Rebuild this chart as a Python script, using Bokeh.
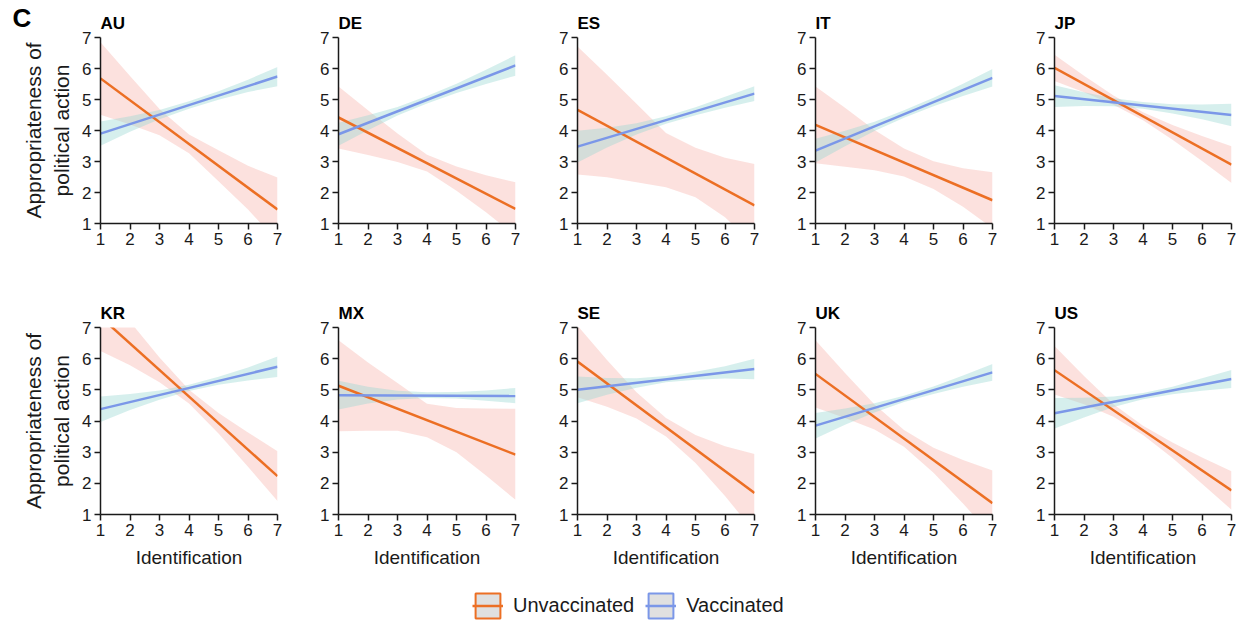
from bokeh.plotting import figure
from bokeh.layouts import column, row
from bokeh.models import Range1d, Legend, LegendItem, Label, FixedTicker
from bokeh.embed import file_html
from bokeh.resources import INLINE

COUNTRIES = ["AU", "DE", "ES", "IT", "JP", "KR", "MX", "SE", "UK", "US"]
X = [1, 2, 3, 4, 5, 6, 7]
TICKS = [1, 2, 3, 4, 5, 6, 7]

# fitted lines: value at Identification = 1 and = 7
UNV_LINE = [[5.68, 1.45], [4.42, 1.47], [4.67, 1.58], [4.18, 1.75], [6.02, 2.90],
            [7.34, 2.23], [5.13, 2.92], [5.91, 1.69], [5.51, 1.36], [5.63, 1.77]]
VAC_LINE = [[3.90, 5.74], [3.88, 6.10], [3.48, 5.19], [3.35, 5.70], [5.11, 4.50],
            [4.38, 5.74], [4.83, 4.80], [5.00, 5.67], [3.85, 5.56], [4.25, 5.35]]

# confidence bands at Identification = 1..7
UNV_HI = [[6.85, 5.76, 4.69, 3.87, 3.36, 2.86, 2.48],
          [5.42, 4.65, 3.90, 3.22, 2.84, 2.56, 2.33],
          [6.71, 5.80, 4.86, 3.92, 3.44, 3.12, 2.92],
          [5.42, 4.73, 4.02, 3.42, 3.01, 2.78, 2.65],
          [6.44, 5.77, 5.13, 4.59, 4.18, 3.82, 3.49],
          [8.43, 7.19, 6.04, 5.00, 4.26, 3.63, 3.03],
          [6.59, 5.88, 5.22, 4.55, 4.42, 4.40, 4.39],
          [7.06, 5.96, 4.92, 4.10, 3.55, 3.19, 2.94],
          [6.59, 5.54, 4.53, 3.71, 3.14, 2.75, 2.41],
          [6.41, 5.44, 4.54, 3.85, 3.31, 2.83, 2.39]]
UNV_LO = [[4.51, 4.19, 3.85, 3.27, 2.36, 1.45, 0.42],
          [3.42, 3.21, 2.98, 2.68, 2.06, 1.36, 0.61],
          [2.58, 2.49, 2.33, 2.17, 1.85, 1.20, 0.30],
          [2.94, 2.83, 2.72, 2.52, 2.11, 1.54, 0.85],
          [5.60, 5.23, 4.83, 4.33, 3.70, 3.02, 2.31],
          [6.25, 5.79, 5.24, 4.56, 3.60, 2.53, 1.43],
          [3.67, 3.69, 3.69, 3.48, 3.00, 2.25, 1.47],
          [4.76, 4.46, 4.08, 3.50, 2.65, 1.59, 0.44],
          [4.43, 4.10, 3.73, 3.17, 2.34, 1.35, 0.31],
          [4.85, 4.54, 4.14, 3.55, 2.81, 1.99, 1.15]]
VAC_HI = [[4.29, 4.46, 4.66, 4.94, 5.27, 5.64, 6.05],
          [4.25, 4.49, 4.76, 5.11, 5.51, 5.96, 6.43],
          [3.99, 4.09, 4.23, 4.46, 4.75, 5.09, 5.43],
          [3.73, 3.99, 4.28, 4.65, 5.06, 5.51, 5.98],
          [5.46, 5.23, 5.04, 4.92, 4.85, 4.84, 4.86],
          [4.79, 4.87, 4.98, 5.16, 5.42, 5.72, 6.07],
          [5.29, 5.10, 4.97, 4.92, 4.93, 4.98, 5.06],
          [5.43, 5.38, 5.37, 5.44, 5.58, 5.76, 6.00],
          [4.26, 4.40, 4.57, 4.81, 5.11, 5.46, 5.83],
          [4.74, 4.75, 4.79, 4.90, 5.10, 5.37, 5.64]]
VAC_LO = [[3.51, 3.96, 4.36, 4.70, 4.99, 5.24, 5.43],
          [3.51, 4.01, 4.48, 4.87, 5.21, 5.50, 5.77],
          [2.97, 3.45, 3.87, 4.22, 4.49, 4.73, 4.95],
          [2.97, 3.49, 3.98, 4.41, 4.78, 5.11, 5.42],
          [4.76, 4.79, 4.78, 4.70, 4.55, 4.36, 4.14],
          [3.97, 4.35, 4.68, 4.96, 5.16, 5.30, 5.41],
          [4.37, 4.56, 4.69, 4.74, 4.72, 4.65, 4.57],
          [4.57, 4.84, 5.07, 5.24, 5.32, 5.36, 5.34],
          [3.44, 3.88, 4.27, 4.61, 4.87, 5.10, 5.29],
          [3.76, 4.11, 4.45, 4.70, 4.86, 4.97, 5.06]]

SERIES = ["Unvaccinated", "Vaccinated"]
Y_LABEL = "Appropriateness of\npolitical action"
X_LABEL = "Identification"
PANEL_LETTER = "C"

FONT = "Liberation Sans"
ORANGE = "#EC6F24"
BLUE = "#7B97E8"
PINK = "#F7A9A0"
TEAL = "#98D8D2"
INK = "#1a1a1a"

LEFTS = [100, 25, 25, 25, 25]
RIGHTS = [36, 37, 36, 37, 5]

rows = [[], []]
for i, c in enumerate(COUNTRIES):
    r, k = divmod(i, 5)
    p = figure(frame_width=177, frame_height=186 if r == 0 else 187,
               x_range=Range1d(1, 7), y_range=Range1d(1, 7),
               output_backend="svg", toolbar_location=None,
               min_border_left=LEFTS[k],
               min_border_right=RIGHTS[k], min_border_top=37,
               min_border_bottom=67 if r == 0 else 56)
    p.outline_line_color = None
    p.xgrid.visible = False
    p.ygrid.visible = False
    p.background_fill_color = "white"
    p.border_fill_color = "white"

    p.varea(x=X, y1=UNV_LO[i], y2=UNV_HI[i], fill_color=PINK, fill_alpha=0.35)
    p.varea(x=X, y1=VAC_LO[i], y2=VAC_HI[i], fill_color=TEAL, fill_alpha=0.4)
    p.line(x=[X[0], X[-1]], y=UNV_LINE[i], line_color=ORANGE, line_width=2.5)
    p.line(x=[X[0], X[-1]], y=VAC_LINE[i], line_color=BLUE, line_width=2.5)

    p.title.text = c
    p.title.align = "left"
    p.title.text_font = FONT
    p.title.text_font_size = "17px"
    p.title.text_font_style = "bold"
    p.title.text_color = "black"

    for ax in (p.xaxis[0], p.yaxis[0]):
        ax.ticker = FixedTicker(ticks=TICKS)
        ax.axis_line_width = 1.5
        ax.axis_line_color = INK
        ax.major_tick_line_width = 1.5
        ax.major_tick_line_color = INK
        ax.major_tick_in = 0
        ax.major_tick_out = 6
        ax.minor_tick_line_color = None
        ax.major_label_text_font = FONT
        ax.major_label_text_font_size = "17px"
        ax.major_label_text_color = INK
        ax.major_label_standoff = 3
        ax.axis_label_text_font = FONT
        ax.axis_label_text_font_style = "normal"
        ax.axis_label_text_color = INK
        ax.axis_label_standoff = 8
    p.xaxis.axis_label_text_font_size = "19px"
    p.yaxis.axis_label_text_font_size = "21px"
    p.yaxis.axis_label_standoff = 6
    if k == 0:
        p.yaxis.axis_label = Y_LABEL
    if r == 1:
        p.xaxis.axis_label = X_LABEL
    if i == 0:
        # panel letter: kept in a side panel (spare room below the axis) so it is
        # not clipped to the frame, then shifted up to the top-left corner
        p.add_layout(Label(x=-88, y=260, x_units="screen", y_units="screen",
                           text=PANEL_LETTER, text_font=FONT, text_font_size="26px",
                           text_font_style="bold", text_color="black",
                           text_baseline="middle", text_align="left"), "below")
    rows[r].append(p)

lg = figure(width=1236, height=57, x_range=Range1d(0, 1), y_range=Range1d(0, 1),
            output_backend="svg", toolbar_location=None,
            x_axis_type=None, y_axis_type=None,
            min_border_left=0, min_border_right=0, min_border_top=0, min_border_bottom=0)
lg.outline_line_color = None
lg.xgrid.visible = False
lg.ygrid.visible = False
items = []
for name, col in zip(SERIES, [ORANGE, BLUE]):
    q = lg.quad(left=[2], right=[3], top=[3], bottom=[2], fill_color="#E0E0E0",
                line_color=col, line_width=2)
    l = lg.line(x=[2, 3], y=[2, 2], line_color=col, line_width=2.5)
    items.append(LegendItem(label=name, renderers=[q, l]))
legend = Legend(items=items, orientation="horizontal", location=(472, 6),
                glyph_width=31, glyph_height=31, label_standoff=10, spacing=11,
                padding=0, margin=0, border_line_color=None, background_fill_alpha=0,
                label_text_font=FONT, label_text_font_size="20px", label_text_color=INK)
lg.add_layout(legend, "center")

layout = column(row(*rows[0]), row(*rows[1]), lg)
open("out.html", "w").write(file_html(layout, INLINE))
